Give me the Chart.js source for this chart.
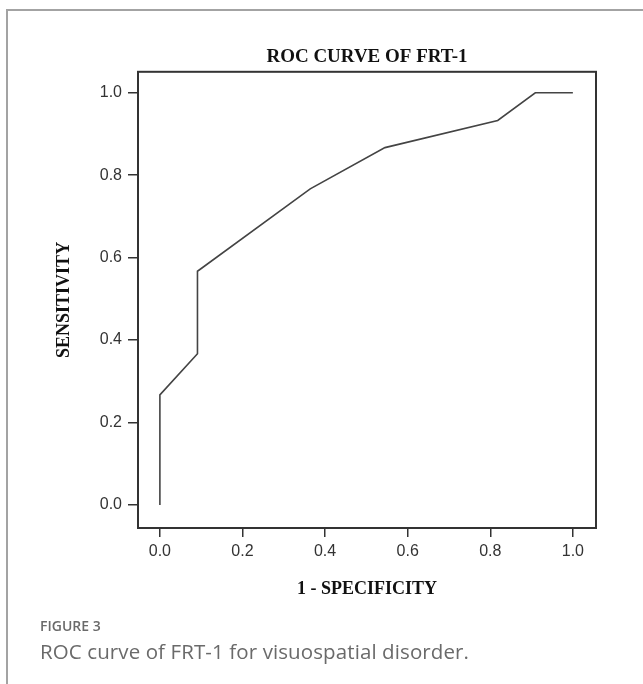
<!DOCTYPE html>
<html>
<head>
<meta charset="utf-8">
<script src="https://cdn.jsdelivr.net/npm/chart.js@4.4.1/dist/chart.umd.min.js"></script>
<style>
  body { margin: 0; background: #fff; }
  #wrap { position: relative; width: 643px; height: 684px; overflow: hidden; }
  #frame { position: absolute; left: 6px; top: 9px; right: -4px; bottom: -4px;
           border-top: 2px solid #a3a3a3; border-left: 2px solid #a3a3a3; }
  canvas { position: absolute; left: 0; top: 0; }
  .fig { position: absolute; left: 40px; top: 616px; font-family: "Open Sans", sans-serif;
         font-size: 14px; font-weight: 600; color: #6a6a6a; }
  .cap { position: absolute; left: 40px; top: 637px; font-family: "Open Sans", sans-serif;
         font-size: 20.5px; color: #6a6a6a; letter-spacing: 0.1px; }
</style>
</head>
<body>
<div id="wrap">
  <div id="frame"></div>
  <canvas id="roc" width="643" height="684"></canvas>
  <div class="fig">FIGURE 3</div>
  <div class="cap">ROC curve of FRT-1 for visuospatial disorder.</div>
</div>
<script>
// ROC points: 1 - specificity / sensitivity
const fpr = [0, 0, 0.091, 0.091, 0.364, 0.545, 0.818, 0.909, 1.0];
const tpr = [0, 0.267, 0.367, 0.567, 0.767, 0.867, 0.933, 1.0, 1.0];
const xTicks = [0, 0.2, 0.4, 0.6, 0.8, 1.0];
const yTicks = [0, 0.2, 0.4, 0.6, 0.8, 1.0];

const serifBold = { family: '"Liberation Serif", "Times New Roman", serif', size: 18, weight: 'bold' };
const tickFont = { family: '"Liberation Sans", Arial, sans-serif', size: 16 };

// box round the plot area
const boxPlugin = {
    id: 'box',
    afterDraw(chart) {
        const a = chart.chartArea;
        const ctx = chart.ctx;
        ctx.save();
        ctx.strokeStyle = '#333';
        ctx.lineWidth = 2;
        ctx.strokeRect(a.left, a.top, a.right - a.left, a.bottom - a.top);
        ctx.restore();
    }
};

new Chart(document.getElementById('roc'), {
    type: 'line',
    data: {
        datasets: [{
            data: fpr.map((x, i) => ({ x: x, y: tpr[i] })),
            borderColor: '#444',
            borderWidth: 1.6,
            pointRadius: 0,
            tension: 0,
            fill: false
        }]
    },
    options: {
        responsive: false,
        animation: false,
        layout: { padding: { left: 0, right: 47, top: 0, bottom: 0 } },
        plugins: {
            legend: { display: false },
            tooltip: { enabled: false },
            title: {
                display: true,
                fullSize: false,
                text: 'ROC CURVE OF FRT-1',
                color: '#111',
                font: { family: serifBold.family, size: 19, weight: 'bold' },
                padding: { top: 46, bottom: 3 }
            }
        },
        scales: {
            x: {
                type: 'linear',
                min: -0.053,
                max: 1.056,
                afterBuildTicks: s => { s.ticks = xTicks.map(v => ({ value: v })); },
                afterFit: s => { s.height = 156; },
                ticks: { color: '#333', font: tickFont, padding: 5, callback: v => v.toFixed(1) },
                grid: { drawOnChartArea: false, drawTicks: true, tickLength: 9, color: '#333', lineWidth: 1.5 },
                border: { display: true, color: '#333', width: 2 },
                title: { display: true, text: '1 - SPECIFICITY', color: '#111', font: serifBold, padding: { top: 0, bottom: 84 } }
            },
            y: {
                type: 'linear',
                min: -0.056,
                max: 1.051,
                afterBuildTicks: s => { s.ticks = yTicks.map(v => ({ value: v })); },
                afterFit: s => { s.width = 138; },
                ticks: { color: '#333', font: tickFont, padding: 6, callback: v => v.toFixed(1) },
                grid: { drawOnChartArea: false, drawTicks: true, tickLength: 10, color: '#333', lineWidth: 1.5 },
                border: { display: true, color: '#333', width: 2 },
                title: { display: true, text: 'SENSITIVITY', color: '#111', font: serifBold, padding: { top: 54, bottom: 0 } }
            }
        }
    },
    plugins: [boxPlugin]
});
</script>
</body>
</html>
